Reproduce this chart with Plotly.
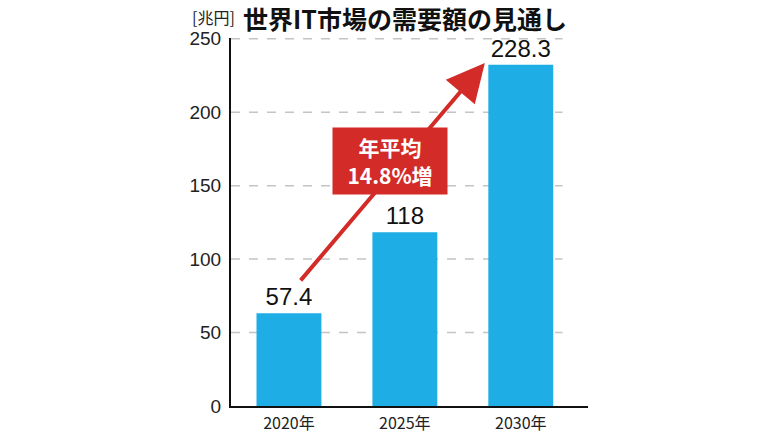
import plotly.graph_objects as go

years = ["2020年", "2025年", "2030年"]
# bar heights as drawn in the picture, and the printed value labels
bar_heights = [63.2, 118.3, 232.3]
value_labels = ["57.4", "118", "228.3"]
y_ticks = [0, 50, 100, 150, 200, 250]
grid_vals = [50, 100, 150, 200, 250]

BLUE = "#1fade6"
RED = "#d32b27"
NUM_FONT = "Liberation Sans, Arial"
JP_FONT = "Noto Sans CJK JP"

x_pos = list(range(len(years)))

fig = go.Figure()

# dashed gridlines (they stop short of the right end of the x axis)
for g in grid_vals:
    fig.add_shape(
        type="line", xref="x", yref="y", x0=-0.5, x1=2.36, y0=g, y1=g,
        line=dict(color="#c4c4c4", width=1.5, dash="dash"), layer="below",
    )

fig.add_trace(go.Bar(
    x=x_pos, y=bar_heights,
    marker=dict(color=BLUE, line_width=0),
    text=value_labels, textposition="outside",
    textfont=dict(family=NUM_FONT, size=24, color="#111"),
    cliponaxis=False, width=0.56,
))

# growth arrow
fig.add_annotation(
    x=1.69, y=233.5, ax=0.09, ay=84.5,
    xref="x", yref="y", axref="x", ayref="y",
    showarrow=True, arrowhead=2, arrowsize=1.9, arrowwidth=4,
    arrowcolor=RED, text="",
)
fig.add_annotation(
    x=0.87, y=167, xref="x", yref="y",
    text="<b>年平均<br>14.8%増</b>", showarrow=False,
    font=dict(family=JP_FONT, size=21, color="white"),
    bgcolor=RED, width=110, height=62, borderpad=2, align="center",
)

# titles
fig.add_annotation(
    x=0, y=1.0, xref="paper", yref="paper", yshift=21, xshift=6,
    text="[兆円]", showarrow=False, xanchor="right", yanchor="middle",
    font=dict(family=JP_FONT, size=16, color="#222"),
)
fig.add_annotation(
    x=0, y=1.0, xref="paper", yref="paper", yshift=20, xshift=11,
    text="<b>世界IT市場の需要額の見通し</b>", showarrow=False,
    xanchor="left", yanchor="middle", borderpad=0,
    font=dict(family=JP_FONT, size=25, color="#111"),
)

fig.update_xaxes(
    range=[-0.5, 2.58], tickvals=x_pos, ticktext=years,
    showline=True, linecolor="#111", linewidth=2, automargin=False,
    showgrid=False, ticks="", zeroline=False, ticklabelstandoff=2,
    tickfont=dict(family=JP_FONT, size=16, color="#222"),
)
fig.update_yaxes(
    range=[0, 250.5], tickvals=y_ticks, automargin=False,
    showline=True, linecolor="#111", linewidth=2,
    showgrid=False, zeroline=False, ticks="", ticklabelstandoff=4,
    tickfont=dict(family=NUM_FONT, size=19, color="#222"),
)
fig.update_layout(
    width=770, height=433,
    margin=dict(l=231, r=182, t=38, b=27, autoexpand=False),
    plot_bgcolor="white", paper_bgcolor="white",
    showlegend=False,
)

# drop the browser's default body margin so the figure sits at the page corner
fig.write_html(
    "out.html",
    config={"displayModeBar": False},
    post_script="document.body.style.margin='0';document.body.style.overflow='hidden';",
)
